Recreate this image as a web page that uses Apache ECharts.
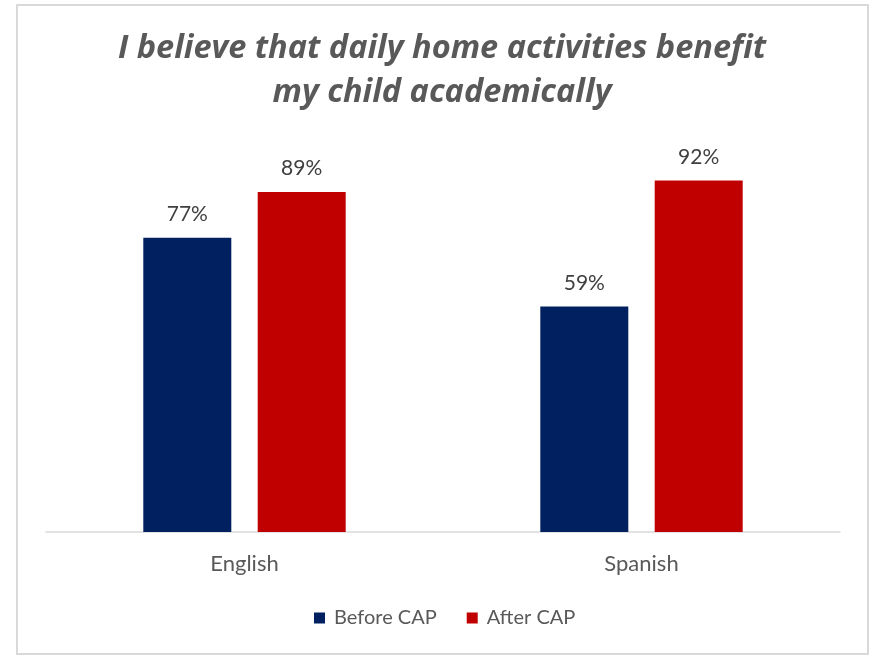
<!DOCTYPE html>
<html>
<head>
<meta charset="utf-8">
<script src="https://cdn.jsdelivr.net/npm/echarts@6/dist/echarts.min.js"></script>
<style>
  html, body { margin: 0; padding: 0; background: #fff; }
  #chart { width: 872px; height: 656px; }
</style>
</head>
<body>
<div id="chart"></div>
<script>
// Survey groups and their agreement rates (percent)
const categories = ['English', 'Spanish'];
const seriesNames = ['Before CAP', 'After CAP'];
const beforeCAP = [77, 59];
const afterCAP = [89, 92];
const colors = ['#002060', '#C00000'];

const FONT = 'Lato, "Open Sans", sans-serif';
const TITLE_FONT = '"Open Sans", Lato, sans-serif';

const chart = echarts.init(document.getElementById('chart'), null, { renderer: 'canvas' });

function barSeries(name, data, color) {
  return {
    name: name,
    type: 'bar',
    data: data,
    barWidth: 88,
    barGap: '30%',
    itemStyle: { color: color },
    label: {
      show: true,
      position: 'top',
      distance: 13,
      formatter: '{c}%',
      color: '#404040',
      fontFamily: FONT,
      fontSize: 21
    }
  };
}

chart.setOption({
  animation: false,
  backgroundColor: '#ffffff',
  title: {
    text: 'I believe that daily home activities benefit\nmy child academically',
    left: 437,
    textAlign: 'center',
    top: 22,
    textStyle: {
      fontFamily: TITLE_FONT,
      fontSize: 32.5,
      fontWeight: 'bold',
      fontStyle: 'italic',
      color: '#595959',
      lineHeight: 44
    }
  },
  legend: {
    data: seriesNames,
    bottom: 23,
    left: 309,
    itemWidth: 11,
    itemHeight: 11,
    itemGap: 30,
    icon: 'rect',
    textStyle: {
      fontFamily: FONT,
      fontSize: 20,
      color: '#595959',
      padding: [0, 0, 0, 4]
    }
  },
  grid: {
    left: 46,
    right: 32,
    top: 150,
    bottom: 124,
    containLabel: false
  },
  xAxis: {
    type: 'category',
    data: categories,
    axisTick: { show: false },
    axisLine: { lineStyle: { color: '#D9D9D9', width: 1.5 } },
    axisLabel: {
      fontFamily: FONT,
      fontSize: 22,
      color: '#595959',
      margin: 21
    }
  },
  yAxis: {
    type: 'value',
    min: 0,
    max: 100,
    show: false,
    splitLine: { show: false }
  },
  graphic: [{
    type: 'rect',
    shape: { x: 17, y: 5, width: 851, height: 649 },
    style: { fill: 'none', stroke: '#D9D9D9', lineWidth: 2 },
    silent: true
  }],
  series: [
    barSeries(seriesNames[0], beforeCAP, colors[0]),
    barSeries(seriesNames[1], afterCAP, colors[1])
  ]
});
</script>
</body>
</html>
